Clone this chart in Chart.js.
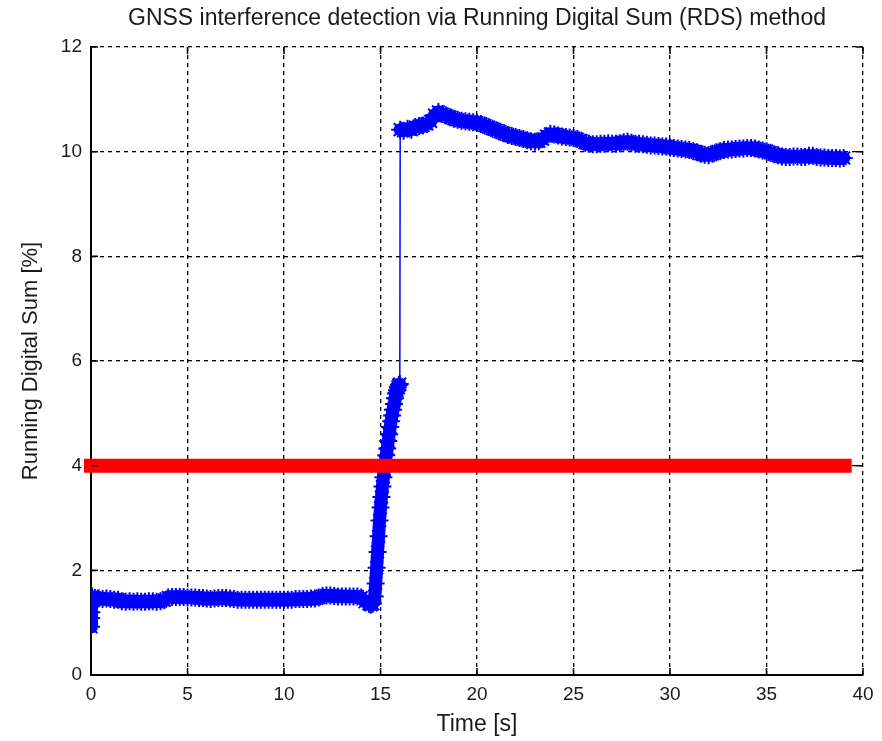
<!DOCTYPE html>
<html>
<head>
<meta charset="utf-8">
<script src="https://cdn.jsdelivr.net/npm/chart.js@4.4.0/dist/chart.umd.min.js"></script>
<style>
  html, body { margin: 0; padding: 0; background: #fff; }
  #wrap { width: 882px; height: 741px; }
</style>
</head>
<body>
<div id="wrap"><canvas id="rdsChart" width="882" height="741"></canvas></div>
<script>
// time axis [s] and running digital sum [%]
var timeS = [
  0.00, 0.01, 0.02, 0.03, 0.05,
  0.2, 0.4, 0.6, 0.8, 1.0, 1.2, 1.4, 1.6, 1.8, 2.0, 2.2, 2.4, 2.6, 2.8, 3.0,
  3.2, 3.4, 3.6, 3.8, 4.0, 4.2, 4.4, 4.6, 4.8, 5.0, 5.2, 5.4, 5.6, 5.8, 6.0,
  6.2, 6.4, 6.6, 6.8, 7.0, 7.2, 7.4, 7.6, 7.8, 8.0, 8.2, 8.4, 8.6, 8.8, 9.0,
  9.2, 9.4, 9.6, 9.8, 10.0, 10.2, 10.4, 10.6, 10.8, 11.0, 11.2, 11.4, 11.6, 11.8, 12.0,
  12.2, 12.4, 12.6, 12.8, 13.0, 13.2, 13.4, 13.6, 13.8, 14.0, 14.2,
  14.4, 14.5, 14.6, 14.7, 14.75, 14.8, 14.85, 14.9, 14.95, 15.0, 15.05, 15.1, 15.15, 15.2,
  15.25, 15.3, 15.35, 15.4, 15.45, 15.5, 15.55, 15.6, 15.65, 15.7, 15.75, 15.8, 15.85, 15.9, 15.95, 16.0,
  16.02, 16.2, 16.4, 16.6, 16.8, 17.0, 17.2, 17.4, 17.6, 17.8, 18.0, 18.2, 18.4, 18.6, 18.8, 19.0,
  19.2, 19.4, 19.6, 19.8, 20.0, 20.2, 20.4, 20.6, 20.8, 21.0, 21.2, 21.4, 21.6, 21.8, 22.0,
  22.2, 22.4, 22.6, 22.8, 23.0, 23.2, 23.4, 23.6, 23.8, 24.0, 24.2, 24.4, 24.6, 24.8, 25.0,
  25.2, 25.4, 25.6, 25.8, 26.0, 26.2, 26.4, 26.6, 26.8, 27.0, 27.2, 27.4, 27.6, 27.8, 28.0,
  28.2, 28.4, 28.6, 28.8, 29.0, 29.2, 29.4, 29.6, 29.8, 30.0, 30.2, 30.4, 30.6, 30.8, 31.0,
  31.2, 31.4, 31.6, 31.8, 32.0, 32.2, 32.4, 32.6, 32.8, 33.0, 33.2, 33.4, 33.6, 33.8, 34.0,
  34.2, 34.4, 34.6, 34.8, 35.0, 35.2, 35.4, 35.6, 35.8, 36.0, 36.2, 36.4, 36.6, 36.8, 37.0,
  37.2, 37.4, 37.6, 37.8, 38.0, 38.2, 38.4, 38.6, 38.8, 39.0
];
var rdsPct = [
  0.92, 1.09, 1.20, 1.33, 1.50,
  1.47, 1.46, 1.45, 1.46, 1.45, 1.44, 1.44, 1.41, 1.40, 1.41, 1.40, 1.41, 1.40, 1.40, 1.41,
  1.41, 1.40, 1.41, 1.43, 1.48, 1.49, 1.49, 1.49, 1.49, 1.48, 1.48, 1.48, 1.47, 1.47, 1.46,
  1.45, 1.46, 1.47, 1.47, 1.47, 1.46, 1.45, 1.44, 1.44, 1.44, 1.44, 1.44, 1.44, 1.44, 1.44,
  1.44, 1.44, 1.44, 1.44, 1.44, 1.44, 1.44, 1.45, 1.45, 1.45, 1.45, 1.46, 1.46, 1.48, 1.51,
  1.52, 1.52, 1.51, 1.50, 1.50, 1.50, 1.50, 1.50, 1.50, 1.48, 1.40,
  1.36, 1.34, 1.36, 1.50, 1.75, 2.05, 2.35, 2.65, 2.95, 3.20, 3.40, 3.60, 3.78, 3.93,
  4.06, 4.20, 4.33, 4.47, 4.60, 4.74, 4.85, 4.96, 5.07, 5.18, 5.29, 5.38, 5.44, 5.50, 5.54, 5.56,
  10.42, 10.40, 10.44, 10.42, 10.47, 10.49, 10.50, 10.53, 10.58, 10.70, 10.76, 10.72, 10.69, 10.66, 10.63, 10.61,
  10.59, 10.58, 10.57, 10.56, 10.55, 10.53, 10.50, 10.47, 10.44, 10.41, 10.38, 10.35, 10.32, 10.30, 10.28,
  10.26, 10.24, 10.22, 10.20, 10.19, 10.20, 10.24, 10.30, 10.34, 10.33, 10.31, 10.29, 10.28, 10.27, 10.26,
  10.24, 10.21, 10.17, 10.15, 10.14, 10.14, 10.15, 10.15, 10.16, 10.15, 10.15, 10.16, 10.18, 10.19, 10.17,
  10.15, 10.15, 10.14, 10.13, 10.12, 10.12, 10.11, 10.10, 10.10, 10.08, 10.07, 10.06, 10.05, 10.04, 10.03,
  10.01, 9.99, 9.96, 9.94, 9.93, 9.96, 9.99, 10.01, 10.03, 10.04, 10.04, 10.05, 10.06, 10.06, 10.07,
  10.07, 10.06, 10.04, 10.02, 10.01, 9.98, 9.95, 9.93, 9.91, 9.90, 9.90, 9.91, 9.91, 9.90, 9.90,
  9.92, 9.92, 9.90, 9.89, 9.89, 9.88, 9.88, 9.88, 9.87, 9.88
];
// detection threshold
var thresholdTime = [0, 39.05];
var thresholdPct = [4, 4];

var xTicks = [0, 5, 10, 15, 20, 25, 30, 35, 40];
var yTicks = [0, 2, 4, 6, 8, 10, 12];

var fontFamily = '"Liberation Sans", Arial, Helvetica, sans-serif';

function toPoints(xs, ys) {
  var pts = [];
  for (var i = 0; i < xs.length; i++) pts.push({ x: xs[i], y: ys[i] });
  return pts;
}

// MATLAB style inward tick marks on all four sides
var inwardTicks = {
  id: 'inwardTicks',
  afterDraw: function (chart) {
    var ctx = chart.ctx, a = chart.chartArea;
    var xs = chart.scales.x, ys = chart.scales.y;
    var len = 7;
    ctx.save();
    ctx.strokeStyle = '#000';
    ctx.lineWidth = 1.5;
    ctx.beginPath();
    xTicks.forEach(function (v) {
      var px = xs.getPixelForValue(v);
      ctx.moveTo(px, a.bottom); ctx.lineTo(px, a.bottom - len);
      ctx.moveTo(px, a.top); ctx.lineTo(px, a.top + len);
    });
    yTicks.forEach(function (v) {
      var py = ys.getPixelForValue(v);
      ctx.moveTo(a.left, py); ctx.lineTo(a.left + len, py);
      ctx.moveTo(a.right, py); ctx.lineTo(a.right - len, py);
    });
    ctx.stroke();
    ctx.restore();
  }
};

var ctx = document.getElementById('rdsChart').getContext('2d');
var chart = new Chart(ctx, {
  type: 'line',
  data: {
    datasets: [{
      label: 'threshold',
      data: toPoints(thresholdTime, thresholdPct),
      borderColor: '#ff0000',
      borderWidth: 14,
      borderCapStyle: 'square',
      pointRadius: 0,
      clip: false,
      order: 0
    },
    {
      label: 'RDS',
      data: toPoints(timeS, rdsPct),
      borderColor: '#0000ff',
      borderWidth: 13,
      borderJoinStyle: 'round',
      borderCapStyle: 'round',
      // the dense marker band is thick, the single jump at 16 s is a thin line
      segment: {
        borderWidth: function (c) {
          return Math.abs(c.p1.parsed.y - c.p0.parsed.y) > 2 ? 1.5 : 13;
        }
      },
      pointStyle: 'star',
      pointRadius: 9,
      pointBorderWidth: 2,
      pointBorderColor: '#0000ff',
      pointBackgroundColor: '#0000ff',
      tension: 0,
      order: 1
    }]
  },
  options: {
    responsive: false,
    animation: false,
    events: [],
    layout: { padding: { left: 0, right: 19, top: 0, bottom: 0 } },
    plugins: {
      legend: { display: false },
      tooltip: { enabled: false },
      title: {
        display: true,
        fullSize: false,
        text: 'GNSS interference detection via Running Digital Sum (RDS) method',
        color: '#1a1a1a',
        font: { family: fontFamily, size: 23, weight: 'normal', lineHeight: 1.2 },
        padding: { top: 4.4, bottom: 15 }
      }
    },
    scales: {
      x: {
        type: 'linear',
        min: 0,
        max: 40,
        afterFit: function (s) { s.height = 66; },
        afterBuildTicks: function (s) { s.ticks = xTicks.map(function (v) { return { value: v }; }); },
        ticks: {
          color: '#1a1a1a',
          padding: 8,
          maxRotation: 0,
          font: { family: fontFamily, size: 19 }
        },
        grid: { color: '#000', lineWidth: 1.3, drawTicks: false },
        border: { display: true, color: '#000', width: 2, dash: [4, 4] },
        title: {
          display: true,
          text: 'Time [s]',
          color: '#1a1a1a',
          font: { family: fontFamily, size: 23, lineHeight: 1.2 },
          padding: { top: 0, bottom: 2.2 }
        }
      },
      y: {
        min: 0,
        max: 12,
        afterFit: function (s) { s.width = 91; },
        afterBuildTicks: function (s) { s.ticks = yTicks.map(function (v) { return { value: v }; }); },
        ticks: {
          color: '#1a1a1a',
          padding: 9,
          font: { family: fontFamily, size: 19 }
        },
        grid: { color: '#000', lineWidth: 1.3, drawTicks: false },
        border: { display: true, color: '#000', width: 2, dash: [4, 4] },
        title: {
          display: true,
          text: 'Running Digital Sum [%]',
          color: '#1a1a1a',
          font: { family: fontFamily, size: 22, lineHeight: 1.2 },
          padding: { top: 18, bottom: 0 }
        }
      }
    }
  },
  plugins: [inwardTicks]
});
</script>
</body>
</html>
